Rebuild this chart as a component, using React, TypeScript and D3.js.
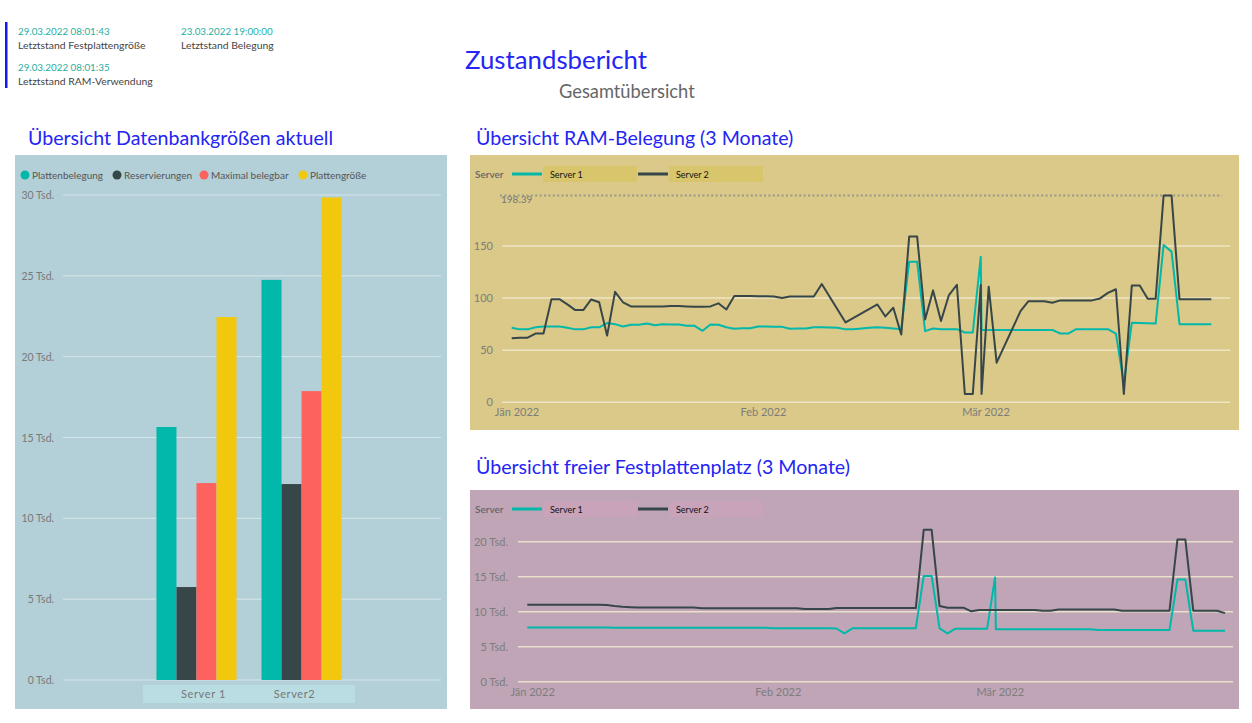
import React from "react";
import * as d3 from "d3";

// ---------- DATA ----------
const headerValues = ["29.03.2022 08:01:43", "23.03.2022 19:00:00", "29.03.2022 08:01:35"];
const headerLabels = ["Letztstand Festplattengröße", "Letztstand Belegung", "Letztstand RAM-Verwendung"];

const barCategories = ["Server 1", "Server2"];
const barSeries = ["Plattenbelegung", "Reservierungen", "Maximal belegbar", "Plattengröße"];
const plattenbelegung = [15650, 24750];
const reservierungen = [5750, 12120];
const maximalBelegbar = [12180, 17870];
const plattengroesse = [22450, 29850];
const barTicks = [0, 5000, 10000, 15000, 20000, 25000, 30000];

const lineSeries = ["Server 1", "Server 2"];
const monthTicks = ["2022-01-01", "2022-02-01", "2022-03-01"];
const monthLabels = ["Jän 2022", "Feb 2022", "Mär 2022"];

// day offsets from 31.12.2021 08:00 (one reading per day, two readings on day 59)
const dayOffsets = [...d3.range(0, 60), 59.1, ...d3.range(60, 89)];

const ramServer1 = [
  71.5, 70, 70, 72, 72.8, 72.8, 72.8, 71.5, 70, 70,
  72, 72, 76, 75, 72.8, 74.4, 74.4, 75.6, 74, 75,
  74.7, 74.7, 73.4, 73.4, 68.6, 74.7, 74.4, 72, 70.5, 71,
  71, 72.8, 72.8, 72.4, 72.4, 70.5, 70.8, 70.8, 72, 72,
  71.8, 71.5, 70, 70.2, 70.8, 71.5, 72, 71.5, 70.8, 70.2,
  135, 135, 68.3, 70.8, 70.2, 70.2, 70.2, 67, 67, 139.7, 69.5,
  69.5, 69.5, 69.5, 69.5, 69.5, 69.5, 69.5, 69.5, 69.5, 66,
  66, 70.2, 70.2, 70.2, 70.2, 70.2, 66, 18, 76.3, 76,
  75.8, 75.6, 151, 144.6, 75, 75, 75, 75, 75,
];
const ramServer2 = [
  61.5, 62, 62, 66, 66, 99, 99, 94, 88.5, 88.5,
  98.7, 96, 64, 106, 96, 92, 92, 92, 92, 92,
  92.3, 92.3, 92, 91.7, 91.7, 92, 95, 89, 102, 102,
  102, 101.8, 101.8, 101.5, 100.2, 101.5, 101.5, 101.5, 101.5, 113.5,
  null, null, 76.6, null, null, null, 93.9, 82.4, 90.7, 65,
  159, 159, 79.5, 107.4, 78, 102.9, 112.8, 8, 8, 112.5, 8,
  111, 38, null, null, 87.5, 97, 97, 97, 95.5, 97.8,
  97.8, 97.8, 97.8, 97.8, 99.7, 105, 108.5, 8, 112, 112,
  99.4, 99.4, 198.39, 198.39, 99, 99, 99, 99, 99,
];
const ramMax = 198.39;
const ramTicks = [0, 50, 100, 150];

const diskServer1 = [
  7760, 7760, 7760, 7760, 7760, 7760, 7760, 7760, 7760, 7760,
  7760, 7700, 7700, 7700, 7700, 7700, 7700, 7700, 7700, 7700,
  7700, 7700, 7700, 7700, 7700, 7700, 7700, 7700, 7700, 7700,
  7700, 7640, 7640, 7640, 7640, 7640, 7640, 7640, 7640, 7600,
  6900, 7620, 7620, 7620, 7620, 7620, 7620, 7620, 7620, 7620,
  15100, 15100, 7620, 6900, 7570, 7570, 7570, 7570, 7570, 14900, 7480,
  7480, 7480, 7480, 7480, 7480, 7480, 7480, 7480, 7480, 7480,
  7480, 7480, 7380, 7380, 7380, 7380, 7380, 7380, 7380, 7380,
  7380, 7380, 14600, 14600, 7290, 7290, 7290, 7290, 7290,
];
const diskServer2 = [
  11000, 11000, 11000, 11000, 11000, 11000, 11000, 11000, 11000, 11000,
  10950, 10800, 10700, 10650, 10600, 10600, 10600, 10600, 10600, 10600,
  10600, 10600, 10500, 10500, 10500, 10500, 10500, 10500, 10500, 10500,
  10500, 10500, 10500, 10500, 10500, 10400, 10400, 10400, 10400, 10520,
  10520, 10520, 10520, 10520, 10520, 10520, 10520, 10520, 10520, 10520,
  21700, 21700, 10800, 10570, 10570, 10570, 10050, 10240, 10240, 10240, 10240,
  10240, 10240, 10240, 10240, 10240, 10150, 10150, 10330, 10330, 10330,
  10330, 10330, 10330, 10330, 10330, 10140, 10140, 10140, 10140, 10140,
  10140, 10140, 20300, 20300, 10140, 10140, 10140, 10140, 9800,
];
const diskTicks = [0, 5000, 10000, 15000, 20000];

// ---------- STYLE ----------
const FONT = "Lato, 'Open Sans', sans-serif";
const barColors = ["#01b8aa", "#374649", "#fd625e", "#f2c80f"];
const lineColors = ["#01b8aa", "#374649"];
const TITLE_BLUE = "#2424f4";

const startDate = new Date(2021, 11, 31, 8, 0, 0);
const toDate = (d: number) => new Date(startDate.getTime() + d * 86400000);
const parseDay = d3.timeParse("%Y-%m-%d");

type Pt = { d: Date; v: number };
const makePts = (vals: (number | null)[]): Pt[] =>
  dayOffsets
    .map((o, i) => ({ d: toDate(o), v: vals[i] as number }))
    .filter((p) => p.v !== null && p.v !== undefined);

function LineChart(props: {
  x0: number; y0: number; w: number; h: number; bg: string; legendBg: string;
  xRange: [number, number]; yDomain: [number, number]; yRange: [number, number];
  gridX: [number, number]; labelX: number; ticks: number[]; fmt: (v: number) => string;
  s1: (number | null)[]; s2: (number | null)[]; xLabelY: number; maxLine?: number;
}) {
  const { x0, y0, w, h, bg, legendBg } = props;
  const x = d3.scaleTime().domain([toDate(0), toDate(88)]).range(props.xRange);
  const y = d3.scaleLinear().domain(props.yDomain).range(props.yRange);
  const line = d3.line<Pt>().x((p) => x(p.d)).y((p) => y(p.v));
  const series = [props.s1, props.s2];
  const legY = y0 + 19;
  return (
    <g>
      <rect x={x0} y={y0} width={w} height={h} fill={bg} />
      {/* legend */}
      <text x={x0 + 5} y={legY + 4} fontSize={10} fill="#666" fontFamily={FONT} fontWeight={600}>Server</text>
      {lineSeries.map((s, i) => {
        const lx = x0 + 42 + i * 126;
        return (
          <g key={s}>
            <line x1={lx} x2={lx + 30} y1={legY} y2={legY} stroke={lineColors[i]} strokeWidth={3} />
            <rect x={lx + 31} y={legY - 8} width={94} height={16} fill={legendBg} />
            <text x={lx + 38} y={legY + 3.5} fontSize={9} fill="#111" fontFamily={FONT}>{s}</text>
          </g>
        );
      })}
      {props.ticks.map((t) => (
        <g key={t}>
          <line x1={props.gridX[0]} x2={props.gridX[1]} y1={y(t)} y2={y(t)} stroke="#f1ead0" strokeOpacity={0.85} strokeWidth={1.5} />
          <text x={props.labelX} y={y(t) + 4} textAnchor="end" fontSize={11} fill="#7d7d7d" fontFamily={FONT}>{props.fmt(t)}</text>
        </g>
      ))}
      {props.maxLine !== undefined && (
        <g>
          <line x1={props.gridX[0] - 2} x2={props.gridX[1] - 8} y1={y(props.maxLine)} y2={y(props.maxLine)} stroke="#9a9a8a" strokeWidth={2} strokeDasharray="2,2.4" />
          <text x={props.gridX[0] - 1} y={y(props.maxLine) + 7} fontSize={10} fill="#777" fontFamily={FONT}>{String(props.maxLine)}</text>
        </g>
      )}
      {monthTicks.map((m, i) => (
        <text key={m} x={x(parseDay(m) as Date)} y={props.xLabelY} textAnchor="middle" fontSize={11} fill="#7d7d7d" fontFamily={FONT}>{monthLabels[i]}</text>
      ))}
      {series.map((s, i) => (
        <path key={i} d={line(makePts(s)) || ""} fill="none" stroke={lineColors[i]} strokeWidth={2} strokeLinejoin="round" />
      ))}
    </g>
  );
}

export default function App() {
  const barValues = [plattenbelegung, reservierungen, maximalBelegbar, plattengroesse];
  const yBar = d3.scaleLinear().domain([0, 30000]).range([680, 195]);
  const xBar = d3.scaleBand().domain(barCategories).range([143, 355]).paddingInner(0.238).paddingOuter(0.128);
  const xInner = d3.scaleBand().domain(barSeries).range([0, xBar.bandwidth()]);
  const xAxisLabel = d3.scaleBand().domain(barCategories).range([158, 340]);
  const legendX = [25, 117, 204, 303];
  const tsd = (v: number) => `${v / 1000} Tsd.`;

  return (
    <svg width={1252} height={723} style={{ position: "absolute", left: 0, top: 0, background: "#fff" }} fontFamily={FONT}>
      {/* header card */}
      <rect x={5} y={22} width={2.5} height={66} fill="#1515f0" />
      {headerValues.map((v, i) => {
        const hx = i === 1 ? 181 : 18;
        const hy = i === 2 ? 71 : 35;
        return (
          <g key={i}>
            <text x={hx} y={hy} fontSize={9.8} fill="#1fae9f">{v}</text>
            <text x={hx} y={hy + 14} fontSize={10.4} fill="#444">{headerLabels[i]}</text>
          </g>
        );
      })}
      <text x={465} y={69} fontSize={25.8} fill={TITLE_BLUE}>Zustandsbericht</text>
      <text x={559} y={98} fontSize={18.3} fill="#666">Gesamtübersicht</text>

      {/* section titles */}
      <text x={28} y={145} fontSize={19.6} fill={TITLE_BLUE}>Übersicht Datenbankgrößen aktuell</text>
      <text x={476} y={145} fontSize={19.6} fill={TITLE_BLUE}>Übersicht RAM-Belegung (3 Monate)</text>
      <text x={476} y={474} fontSize={19.6} fill={TITLE_BLUE}>Übersicht freier Festplattenplatz (3 Monate)</text>

      {/* bar chart */}
      <rect x={15} y={155} width={432} height={554} fill="#b3cfd7" />
      {barSeries.map((s, i) => (
        <g key={s}>
          <circle cx={legendX[i]} cy={175} r={4.5} fill={barColors[i]} />
          <text x={legendX[i] + 7} y={178.5} fontSize={10} fill="#555">{s}</text>
        </g>
      ))}
      {barTicks.map((t) => (
        <g key={t}>
          <line x1={63} x2={441} y1={yBar(t)} y2={yBar(t)} stroke="#d7e6ea" strokeWidth={1} />
          <text x={54} y={yBar(t) + 4} textAnchor="end" fontSize={10.5} fill="#7a7a7a">{tsd(t)}</text>
        </g>
      ))}
      <rect x={143} y={685} width={212} height={18} fill="#b9dde3" />
      {barCategories.map((c, ci) => (
        <g key={c}>
          {barSeries.map((s, si) => (
            <rect key={s} x={(xBar(c) as number) + (xInner(s) as number)} y={yBar(barValues[si][ci])}
              width={xInner.bandwidth()} height={yBar(0) - yBar(barValues[si][ci])} fill={barColors[si]} />
          ))}
          <text x={(xAxisLabel(c) as number) + xAxisLabel.bandwidth() / 2} y={698} textAnchor="middle" fontSize={11} fill="#777" letterSpacing={0.6}>{c}</text>
        </g>
      ))}

      {/* RAM chart */}
      <LineChart x0={470} y0={155} w={769} h={275} bg="#dac988" legendBg="#d9c66c"
        xRange={[511.7, 1211.3]} yDomain={[0, 150]} yRange={[402.3, 246]} gridX={[502, 1230]}
        labelX={493} ticks={ramTicks} fmt={(v) => String(v)} s1={ramServer1} s2={ramServer2}
        xLabelY={416} maxLine={ramMax} />

      {/* Disk chart */}
      <LineChart x0={470} y0={490} w={769} h={219} bg="#bfa5b6" legendBg="#c9a3b9"
        xRange={[527.3, 1225]} yDomain={[0, 20000]} yRange={[681.7, 541.7]} gridX={[518, 1233]}
        labelX={508} ticks={diskTicks} fmt={tsd} s1={diskServer1} s2={diskServer2}
        xLabelY={696} />
    </svg>
  );
}
